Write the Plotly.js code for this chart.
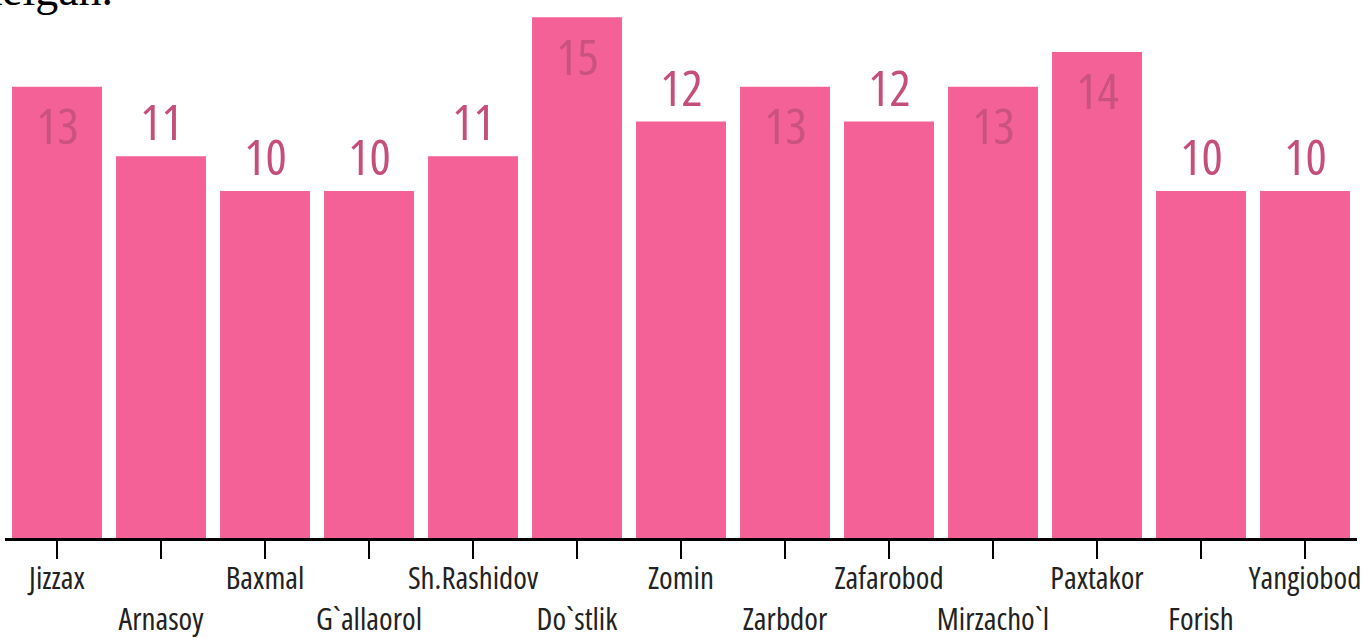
<!DOCTYPE html>
<html>
<head>
<meta charset="utf-8">
<script src="https://cdn.plot.ly/plotly-3.0.1.min.js"></script>
<style>
html,body{margin:0;padding:0;background:#fff;}
#chart{width:1362px;height:638px;}
#chart .xtick text, #chart .xtick tspan { font-stretch: condensed; }
#chart .annotation text { font-stretch: condensed; }
</style>
</head>
<body>
<div id="chart"></div>
<script>
var districts = ["Jizzax","Arnasoy","Baxmal","G`allaorol","Sh.Rashidov","Do`stlik","Zomin","Zarbdor","Zafarobod","Mirzacho`l","Paxtakor","Forish","Yangiobod"];
var counts = [13, 11, 10, 10, 11, 15, 12, 13, 12, 13, 14, 10, 10];
var titleTail = "kelgan.";

var narrow = "'Open Sans', 'Roboto Condensed', sans-serif";

var tickText = districts.map(function (d, i) { return i % 2 === 1 ? "&nbsp;<br>" + d : d; });

var annotations = districts.map(function (d, i) {
  var v = counts[i];
  var inside = v >= 13;
  return {
    x: d, y: inside ? v - 1.1 : v + 1, xref: "x", yref: "y",
    text: String(v), showarrow: false, xanchor: "center", yanchor: "middle",
    font: {family: narrow, size: 50, color: inside ? "#c9527f" : "#c54e7b"}
  };
});

var data = [{
  type: "bar", x: districts, y: counts,
  marker: {color: "#f36196"}, hoverinfo: "x+y"
}];

var layout = {
  width: 1362, height: 638,
  margin: {l: 5, r: 5, t: 0, b: 100},
  paper_bgcolor: "#fff", plot_bgcolor: "#fff",
  bargap: 0.135,
  showlegend: false,
  xaxis: {
    type: "category", range: [-0.5, 12.5],
    tickmode: "array", tickvals: districts, ticktext: tickText,
    tickangle: 0, ticklabelstandoff: -7,
    showline: true, linecolor: "#000", linewidth: 3,
    ticks: "outside", ticklen: 18, tickwidth: 2, tickcolor: "#000",
    tickfont: {family: narrow, size: 31, color: "#222"},
    showgrid: false, zeroline: false, fixedrange: true
  },
  yaxis: {
    range: [0, 15.5], visible: false, showgrid: false, zeroline: false, fixedrange: true
  },
  annotations: annotations
};

Plotly.newPlot("chart", data, layout, {displayModeBar: false, staticPlot: true}).then(function (gd) {
  Plotly.relayout(gd, {
    annotations: annotations.concat([{
      xref: "paper", yref: "paper", x: 0, y: 1, xanchor: "left", yanchor: "bottom",
      xshift: -28, yshift: -17, showarrow: false, text: titleTail,
      font: {family: "'Liberation Serif', 'Times New Roman', serif", size: 46, color: "#000"}
    }])
  }).then(function () {
    var anns = gd.querySelectorAll(".annotation");
    anns[anns.length - 1].querySelector("text").style.fontStretch = "normal";
  });
});
</script>
</body>
</html>
